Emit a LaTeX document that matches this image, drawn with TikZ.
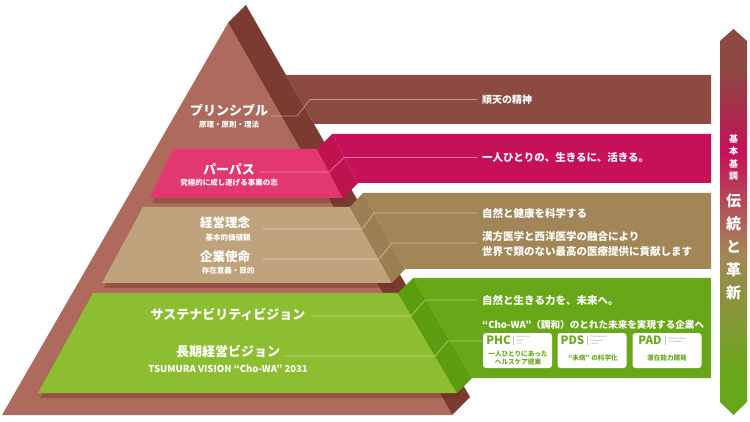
\documentclass[tikz,border=0pt]{standalone}
\usepackage{fontspec}
\setmainfont{Noto Sans CJK JP}
\usetikzlibrary{calc}
\definecolor{pyrF}{HTML}{AD6A5D}
\definecolor{pyrS}{HTML}{7B3B31}
\definecolor{bandBr}{HTML}{8C4A41}
\definecolor{pinkF}{HTML}{E2376F}
\definecolor{pinkS}{HTML}{C0124F}
\definecolor{bandPk}{HTML}{C7105A}
\definecolor{begF}{HTML}{BFA37C}
\definecolor{begS}{HTML}{9C7F53}
\definecolor{bandBg}{HTML}{A38657}
\definecolor{grnF}{HTML}{8DBD30}
\definecolor{grnS}{HTML}{5C9D10}
\definecolor{bandGr}{HTML}{68A818}
\definecolor{boxGr}{HTML}{6AAA1C}
\definecolor{shad}{HTML}{6A2A22}
\pgfdeclareverticalshading{barshade}{100bp}{color(0bp)=(bandGr); color(30bp)=(bandGr); color(46bp)=(bandBg); color(59bp)=(bandPk); color(70bp)=(bandBr); color(100bp)=(bandBr)}
\begin{document}
\begin{tikzpicture}[x=1pt,y=-1pt,
  lbl/.style={text=white, inner sep=0pt, font=\fontsize{13}{15}\selectfont\bfseries},
  sub/.style={text=white, inner sep=0pt, font=\fontsize{7.5}{9}\selectfont\bfseries},
  rtxt/.style={text=white, inner sep=0pt, anchor=west, font=\fontsize{10.5}{15}\selectfont\bfseries},
  leader/.style={draw=white, draw opacity=0.45, line width=0.7pt},
  wbox/.style={fill=white, rounded corners=3pt, minimum width=69pt, minimum height=35pt, inner sep=0pt},
  boxhead/.style={text=boxGr, inner sep=0pt, font=\fontsize{11.5}{12}\selectfont\bfseries},
  boxtiny/.style={text=black!45, inner sep=0pt, align=left, anchor=west, font=\fontsize{2.2}{3.4}\selectfont},
  boxjp/.style={text=boxGr, inner sep=0pt, align=center, font=\fontsize{6.6}{8.2}\selectfont\bfseries},
  sep/.style={draw=black!25, line width=0.6pt},
  shadow/.style={fill=shad, fill opacity=0.35}
]
\useasboundingbox (0,0) rectangle (750,422);

% ---------- horizontal bands ----------
\fill[bandBr] (286,75) -- (711,75) -- (711,124) -- (314,124) -- cycle;
\fill[bandPk] (332,134) -- (711,134) -- (711,183) -- (358,183) -- cycle;
\fill[bandBg] (363,193) -- (711,193) -- (711,269) -- (405,269) -- cycle;
\fill[bandGr] (413,278) -- (711,278) -- (711,378) -- (472,378) -- cycle;

% ---------- pyramid ----------
\fill[pyrS] (228,23) -- (246,5) -- (470,397) -- (452,415) -- cycle;
\fill[pyrF] (228,23) -- (452,415) -- (2,415) -- cycle;

% ---------- pink slab ----------
\fill[shadow] (175,153) -- (320,153) -- (347,203) -- (152,203) -- cycle;
\fill[pinkF] (173,149) -- (317,149) -- (343,198) -- (150,198) -- cycle;
\fill[pinkS] (317,149) -- (332,134) -- (358,183) -- (343,198) -- cycle;

% ---------- beige slab ----------
\fill[shadow] (145,211) -- (353,211) -- (396,288) -- (104,288) -- cycle;
\fill[begF] (143,207) -- (350,207) -- (392,283) -- (102,283) -- cycle;
\fill[begS] (350,207) -- (363,193) -- (405,269) -- (392,283) -- cycle;

% ---------- green slab ----------
\fill[shadow] (95,297) -- (401,297) -- (461,398) -- (40,398) -- cycle;
\fill[grnF] (93,293) -- (398,293) -- (457,393) -- (38,393) -- cycle;
\fill[grnS] (398,293) -- (413,278) -- (472,378) -- (457,393) -- cycle;

% ---------- left labels ----------
\node[lbl] (l1) at (229,110) {プリンシプル};
\node[sub] (s1) at (229,125) {原理・原則・理法};
\node[lbl] (l2) at (229,169) {パーパス};
\node[sub] (s2) at (229,182.5) {究極的に成し遂げる事業の志};
\node[lbl, font=\fontsize{12.5}{14}\selectfont\bfseries] (l3) at (225,223) {経営理念};
\node[sub] (s3) at (228,238) {基本的価値観};
\node[lbl, font=\fontsize{12.5}{14}\selectfont\bfseries] (l4) at (225,257) {企業使命};
\node[sub] (s4) at (228,270.5) {存在意義・目的};
\node[lbl] (l5) at (228,314) {サステナビリティビジョン};
\node[lbl] (l6) at (228,351) {長期経営ビジョン};
\node[sub, font=\fontsize{9.5}{11}\selectfont\bfseries] (s6) at (228,368.5) {TSUMURA VISION “Cho-WA” 2031};

% ---------- right texts ----------
\node[rtxt, font=\fontsize{10}{12}\selectfont\bfseries] (t1) at (482,99.5) {順天の精神};
\node[rtxt] (t2) at (482,157.5) {一人ひとりの、生きるに、活きる。};
\node[rtxt] (t3) at (482,213) {自然と健康を科学する};
\node[rtxt, align=left] (t4) at (482,244.5) {漢方医学と西洋医学の融合により\\世界で類のない最高の医療提供に貢献します};
\node[rtxt] (t5) at (482,300) {自然と生きる力を、未来へ。};
\node[rtxt, font=\fontsize{9.6}{12}\selectfont\bfseries] (t6) at (482,324.5) {“Cho-WA”（調和）のとれた未来を実現する企業へ};

% ---------- leader lines ----------
\coordinate (a1) at (297,116); \coordinate (b1) at (310,99.5);
\coordinate (a2) at (329,172); \coordinate (b2) at (344,157.5);
\coordinate (a3) at (362,229); \coordinate (b3) at (374,213);
\coordinate (a4) at (379,259); \coordinate (b4) at (392,243);
\coordinate (a5) at (411,316); \coordinate (b5) at (425,300);
\coordinate (a6) at (435,356); \coordinate (b6) at (448,341);
\coordinate (e4) at (477,243);

\draw[leader] ($(l1.east |- a1)+(3,0)$) -- (a1) -- (b1) -- ($(t1.west)+(-5,0)$);
\draw[leader] ($(l2.east |- a2)+(5,0)$) -- (a2) -- (b2) -- ($(t2.west)+(-5,0)$);
\draw[leader] ($(l3.east |- a3)+(12,0)$) -- (a3) -- (b3) -- ($(t3.west)+(-5,0)$);
\draw[leader] ($(l4.east |- a4)+(12,0)$) -- (a4) -- (b4) -- (e4);
\draw[leader] ($(l5.east |- a5)+(6,0)$) -- (a5) -- (b5) -- ($(t5.west)+(-5,0)$);

% ---------- boxes ----------
\node[wbox] (phc) at (517.5,350.5) {};
\node[wbox] (pds) at (592,350.5) {};
\node[wbox] (pad) at (667,350.5) {};
\draw[leader] ($(l6.east |- a6)+(5,0)$) -- (a6) -- (b6) -- (phc.west |- b6);

\node[boxhead] (phcH) at (498.5,340.5) {PHC};
\draw[sep] (513,336) -- (513,345);
\node[boxtiny] (phcT) at (516.5,340.3) {Personalized\\Health\\Care};
\node[boxjp] (phcJ) at (518,358) {一人ひとりにあった\\ヘルスケア提案};

\node[boxhead] (pdsH) at (572.5,340.5) {PDS};
\draw[sep] (587,336) -- (587,345);
\node[boxtiny] (pdsT) at (590.5,340.3) {Presymptomatic\\Disease and\\Science};
\node[boxjp] (pdsJ) at (593,357.5) {“未病” の科学化};

\node[boxhead] (padH) at (650,340.5) {PAD};
\draw[sep] (665,336) -- (665,345);
\node[boxtiny] (padT) at (668.5,340.3) {Potential Abilities\\Development};
\node[boxjp] (padJ) at (667,357.5) {潜在能力開発};

% ---------- right vertical bar ----------
\path[shading=barshade] (733.5,29) -- (747,41) -- (747,402) -- (733.5,415) -- (720,402) -- (720,41) -- cycle;
\node[text=white, inner sep=0pt, align=center, font=\fontsize{9}{12.3}\selectfont\bfseries] (v1) at (733.5,157.5) {基\\本\\基\\調};
\node[text=white, inner sep=0pt, align=center, font=\fontsize{15}{23}\selectfont\bfseries] (v2) at (733.5,246.5) {伝\\統\\と\\革\\新};
\end{tikzpicture}
\end{document}
